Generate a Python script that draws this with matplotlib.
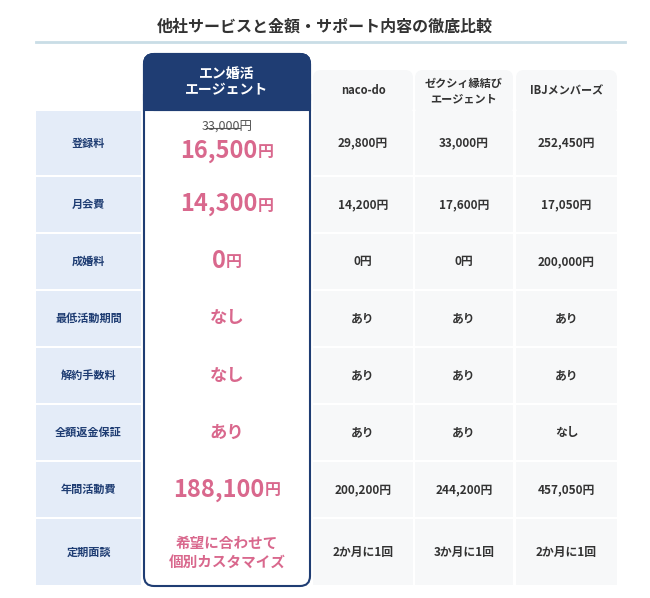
import matplotlib
matplotlib.use("Agg")
import matplotlib.pyplot as plt
from matplotlib.patches import FancyBboxPatch, Rectangle

plt.rcParams["font.family"] = "Noto Sans CJK JP"

title = "他社サービスと金額・サポート内容の徹底比較"
services = ["エン婚活\nエージェント", "naco-do", "ゼクシィ縁結び\nエージェント", "IBJメンバーズ"]
row_labels = ["登録料", "月会費", "成婚料", "最低活動期間", "解約手数料", "全額返金保証", "年間活動費", "定期面談"]
en_values = ["16,500", "14,300", "0", "なし", "なし", "あり", "188,100", "希望に合わせて\n個別カスタマイズ"]
en_old_price = "33,000円"
naco_values = ["29,800円", "14,200円", "0円", "あり", "あり", "あり", "200,200円", "2か月に1回"]
zexy_values = ["33,000円", "17,600円", "0円", "あり", "あり", "あり", "244,200円", "3か月に1回"]
ibj_values = ["252,450円", "17,050円", "200,000円", "あり", "あり", "なし", "457,050円", "2か月に1回"]

W, H = 650, 598
fig = plt.figure(figsize=(W/100, H/100), dpi=100)
ax = fig.add_axes([0, 0, 1, 1])
ax.set_xlim(0, W); ax.set_ylim(H, 0); ax.axis("off")
renderer = fig.canvas.get_renderer()

navy = "#1f3d73"; pink = "#d9688d"; gray_txt = "#333333"
cell_bg = "#f7f8f9"; label_bg = "#e4ecf8"

ax.text(W/2, 27, title, ha="center", va="center", fontsize=11.5, weight="bold", color="#333333")
ax.plot([36, 625], [42, 42], color="#c9dde6", lw=2)

row_edges = [110, 176, 233, 290, 347, 404, 461, 518, 586]
label_x = (36, 141)
en_x = (144, 310)
other_cols = [(313, 413), (415, 513), (516, 617)]
other_vals = [naco_values, zexy_values, ibj_values]

for (x0, x1), name in zip(other_cols, services[1:]):
    ax.add_patch(FancyBboxPatch((x0, 70), x1-x0, 45, boxstyle="round,pad=0,rounding_size=8",
                                fc=cell_bg, ec="none"))
    ax.text((x0+x1)/2, 91, name, ha="center", va="center", fontsize=8, weight="bold",
            color=gray_txt, linespacing=1.3)

for i, lab in enumerate(row_labels):
    y0, y1 = row_edges[i] + 1, row_edges[i+1] - 1
    yc = (y0 + y1) / 2
    ax.add_patch(Rectangle((label_x[0], y0), label_x[1]-label_x[0], y1-y0, fc=label_bg, ec="none"))
    ax.text(sum(label_x)/2, yc, lab, ha="center", va="center", fontsize=8, weight="bold", color=navy)
    for (x0, x1), vals in zip(other_cols, other_vals):
        ax.add_patch(Rectangle((x0, y0), x1-x0, y1-y0, fc=cell_bg, ec="none"))
        ax.text((x0+x1)/2, yc, vals[i], ha="center", va="center", fontsize=8.5, weight="bold", color=gray_txt)

ax.add_patch(FancyBboxPatch((en_x[0], 54), en_x[1]-en_x[0], 532, boxstyle="round,pad=0,rounding_size=10",
                            fc="white", ec=navy, lw=1.5, zorder=3))
ax.add_patch(FancyBboxPatch((en_x[0], 54), en_x[1]-en_x[0], 56, boxstyle="round,pad=0,rounding_size=10",
                            fc=navy, ec=navy, lw=1.5, zorder=4))
ax.add_patch(Rectangle((en_x[0], 95), en_x[1]-en_x[0], 15, fc=navy, ec=navy, lw=1.5, zorder=4))
ex = sum(en_x)/2
ax.text(ex, 82, services[0], ha="center", va="center", fontsize=10, weight="bold", color="white",
        linespacing=1.25, zorder=5)
for i, v in enumerate(en_values):
    yc = (row_edges[i] + row_edges[i+1]) / 2
    if i == 0:
        ax.text(ex, 127, en_old_price, ha="center", va="center", fontsize=9, color="#555555", zorder=5)
        ax.plot([ex-21, ex+13], [128, 128], color="#555555", lw=0.8, zorder=6)
        yc = 151
    if v[0].isdigit():
        t1 = ax.text(0, 0, v, fontsize=17, weight="bold")
        t2 = ax.text(0, 0, "円", fontsize=11.5, weight="bold")
        w1 = t1.get_window_extent(renderer).width
        w2 = t2.get_window_extent(renderer).width
        t1.remove(); t2.remove()
        left = ex - (w1 + w2) / 2
        ax.text(left, yc, v, ha="left", va="center", fontsize=17, weight="bold", color=pink, zorder=5)
        ax.text(left + w1, yc + 1, "円", ha="left", va="center", fontsize=11.5, weight="bold", color=pink, zorder=5)
    elif "\n" in v:
        ax.text(ex, yc, v, ha="center", va="center", fontsize=10.5, weight="bold", color=pink,
                linespacing=1.2, zorder=5)
    else:
        ax.text(ex, yc, v, ha="center", va="center", fontsize=12.5, weight="bold", color=pink, zorder=5)

fig.savefig("out.png", dpi=100, facecolor="white")
